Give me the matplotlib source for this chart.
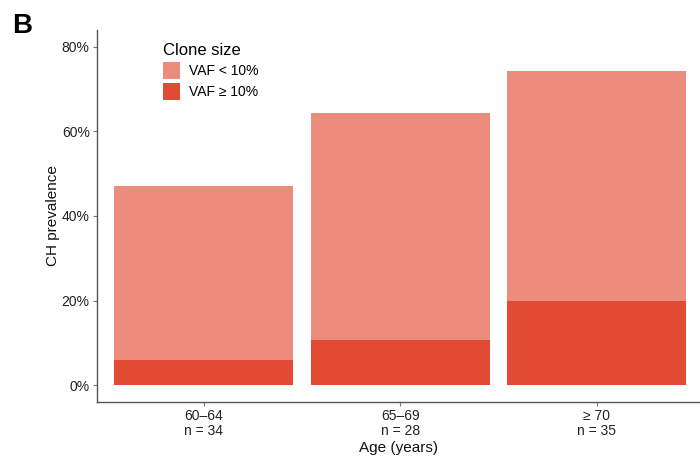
import matplotlib
matplotlib.use("Agg")
import matplotlib.pyplot as plt
from matplotlib.patches import Patch
import numpy as np

plt.rcParams['font.family'] = ['Liberation Sans', 'DejaVu Sans']

# Age groups and carrier counts
age_groups = ["60\u201364", "65\u201369", "\u2265 70"]
n_total = [34, 28, 35]
n_ch_any = [16, 18, 26]      # any CH clone
n_ch_large = [2, 3, 7]       # VAF >= 10%

series_labels = ["VAF < 10%", "VAF \u2265 10%"]
col_small = "#EB8C7C"
col_large = "#E24A33"

pct_any = 100 * np.array(n_ch_any) / np.array(n_total)
pct_large = 100 * np.array(n_ch_large) / np.array(n_total)
pct_small = pct_any - pct_large

fig = plt.figure(figsize=(7.0, 4.58), dpi=100)
ax = fig.add_axes([0.138, 0.1223, 0.862, 0.8122])

x = np.arange(len(age_groups))
ax.bar(x, pct_large, width=0.91, color=col_large, linewidth=0)
ax.bar(x, pct_small, bottom=pct_large, width=0.91, color=col_small, linewidth=0)

ax.set_xlim(-0.5435, 2.524)
ax.set_ylim(-4.0, 84.0)
ax.set_yticks([0, 20, 40, 60, 80])
ax.set_yticklabels([f"{v}%" for v in [0, 20, 40, 60, 80]])
ax.set_xticks(x)
ax.set_xticklabels([f"{g}\nn = {n}" for g, n in zip(age_groups, n_total)],
                   linespacing=1.1)

for s in ["top", "right"]:
    ax.spines[s].set_visible(False)
for s in ["left", "bottom"]:
    ax.spines[s].set_color("#555555")
    ax.spines[s].set_linewidth(1.0)
ax.tick_params(axis="both", colors="#777777", length=3, width=0.8,
               labelsize=10, labelcolor="#222222", pad=2)

ax.set_xlabel("Age (years)", fontsize=11, color="#111111", labelpad=2)
ax.set_ylabel("CH prevalence", fontsize=11, color="#111111", labelpad=1)

handles = [Patch(facecolor=col_small, edgecolor="none"),
           Patch(facecolor=col_large, edgecolor="none")]
leg = ax.legend(handles, series_labels, title="Clone size", frameon=False,
                loc="upper left", bbox_to_anchor=(0.11, 0.965),
                handlelength=1.25, handleheight=1.45, handletextpad=0.6,
                labelspacing=0.32, fontsize=10, title_fontsize=12,
                borderaxespad=0, borderpad=0)
leg._legend_box.align = "left"

fig.text(0.018, 0.972, "B", fontsize=20, fontweight="bold", va="top", ha="left")

fig.savefig("out.png", dpi=100)
